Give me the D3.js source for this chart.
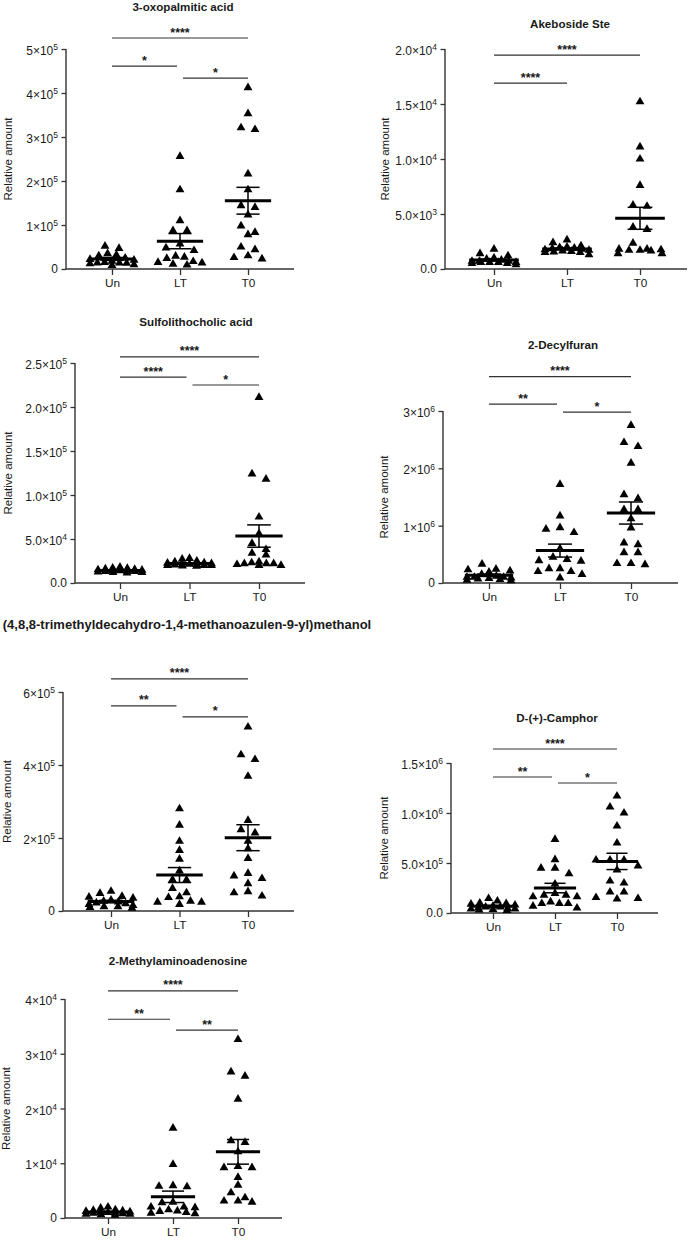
<!DOCTYPE html>
<html><head><meta charset="utf-8">
<script src="https://cdn.jsdelivr.net/npm/d3@7"></script>
<style>
body{margin:0;background:#fff}
svg{display:block}
text{font-family:"Liberation Sans",Arial,Helvetica,sans-serif;fill:#1a1a1a}
</style>
</head><body>
<svg id="chart" width="691" height="1240"></svg>
<script>
// ---------------- DATA ----------------
const groups = ["Un", "LT", "T0"];
const titles = [
  "3-oxopalmitic acid",
  "Akeboside Ste",
  "Sulfolithocholic acid",
  "2-Decylfuran",
  "(4,8,8-trimethyldecahydro-1,4-methanoazulen-9-yl)methanol",
  "D-(+)-Camphor",
  "2-Methylaminoadenosine"
];

// 3-oxopalmitic acid
const oxoUn = [47000, 52000, 30000, 32000, 25000, 22000, 18000, 15000, 14000, 13000, 12000, 10000, 14000, 20000, 8000, 35000];
const oxoLT = [256000, 180000, 110000, 87000, 87000, 57000, 48000, 42000, 27000, 24000, 29000, 11000, 14000, 17000, 9000, 15000];
const oxoT0 = [412000, 353000, 317000, 321000, 216000, 180000, 140000, 144000, 123000, 83000, 98000, 78000, 50000, 44000, 23000, 30000, 26000];
// Akeboside Ste
const akeUn = [1400, 1800, 1200, 1000, 900, 800, 700, 700, 600, 600, 500, 500, 600, 700, 400, 600];
const akeLT = [2650, 2400, 2100, 2000, 1950, 1900, 1850, 1800, 1750, 1700, 1650, 1600, 1550, 1500, 1300, 1500];
const akeT0 = [15200, 11100, 10000, 7600, 5800, 5700, 3800, 3600, 2350, 1700, 1700, 1750, 1800, 1400, 1800, 1400, 1650];
// Sulfolithocholic acid
const sulUn = [18000, 17000, 16500, 16000, 15500, 15000, 14500, 14000, 14000, 13500, 13000, 13000, 12500, 12000, 11500, 12000];
const sulLT = [28000, 27000, 25000, 24000, 23000, 22500, 22000, 21500, 21000, 21000, 20500, 20000, 20000, 19500, 19000, 20000];
const sulT0 = [211000, 124000, 118000, 75000, 56000, 45000, 32000, 38000, 34000, 22000, 24000, 21000, 23000, 20000, 22000, 20000, 22000];
// 2-Decylfuran
const decUn = [330000, 240000, 230000, 210000, 190000, 150000, 120000, 100000, 100000, 90000, 80000, 70000, 60000, 50000, 40000, 100000];
const decLT = [1720000, 1170000, 880000, 940000, 965000, 600000, 390000, 380000, 410000, 450000, 250000, 200000, 200000, 250000, 150000, 90000];
const decT0 = [2750000, 2450000, 2380000, 2090000, 1540000, 1470000, 1280000, 1280000, 1120000, 960000, 670000, 700000, 530000, 530000, 320000, 340000, 340000];
// (4,8,8-trimethyldecahydro-1,4-methanoazulen-9-yl)methanol
const triUn = [54000, 48000, 40000, 38000, 35000, 30000, 27000, 25000, 22000, 20000, 18000, 15000, 12000, 10000, 8000, 12000];
const triLT = [280000, 235000, 191000, 166000, 142000, 110000, 85000, 86000, 62000, 50000, 39000, 37000, 24000, 24000, 18000, 27000];
const triT0 = [504000, 415000, 428000, 369000, 248000, 223000, 214000, 191000, 171000, 144000, 89000, 103000, 96000, 75000, 41000, 53000, 50000];
// D-(+)-Camphor
const camUn = [145000, 120000, 95000, 88000, 100000, 80000, 70000, 60000, 60000, 50000, 45000, 40000, 35000, 30000, 25000, 40000];
const camLT = [736000, 534000, 449000, 449000, 392000, 290000, 179000, 196000, 162000, 162000, 179000, 111000, 95000, 95000, 95000, 68000, 50000];
const camT0 = [1170000, 1060000, 1000000, 870000, 700000, 530000, 530000, 530000, 430000, 470000, 320000, 300000, 210000, 155000, 210000, 145000, 140000];
// 2-Methylaminoadenosine
const mtaUn = [2000, 1800, 1500, 1400, 1300, 1200, 1100, 1000, 900, 900, 800, 700, 700, 600, 500, 1000];
const mtaLT = [16400, 9800, 5900, 5800, 5700, 2900, 2800, 2000, 2000, 1900, 1300, 1200, 800, 900, 1000, 1500];
const mtaT0 = [32600, 26700, 25900, 21700, 13800, 14100, 12100, 9200, 9200, 9400, 7400, 6000, 4600, 2900, 3700, 3100, 3100];

// Tick values and labels
const oxoTicks = [0, 1e5, 2e5, 3e5, 4e5, 5e5];
const oxoTickLabels = ["0", "1×10^5", "2×10^5", "3×10^5", "4×10^5", "5×10^5"];
const akeTicks = [0, 5e3, 1e4, 1.5e4, 2e4];
const akeTickLabels = ["0.0", "5.0×10^3", "1.0×10^4", "1.5×10^4", "2.0×10^4"];
const sulTicks = [0, 5e4, 1e5, 1.5e5, 2e5, 2.5e5];
const sulTickLabels = ["0.0", "5.0×10^4", "1.0×10^5", "1.5×10^5", "2.0×10^5", "2.5×10^5"];
const decTicks = [0, 1e6, 2e6, 3e6];
const decTickLabels = ["0", "1×10^6", "2×10^6", "3×10^6"];
const triTicks = [0, 2e5, 4e5, 6e5];
const triTickLabels = ["0", "2×10^5", "4×10^5", "6×10^5"];
const camTicks = [0, 5e5, 1e6, 1.5e6];
const camTickLabels = ["0.0", "5.0×10^5", "1.0×10^6", "1.5×10^6"];
const mtaTicks = [0, 1e4, 2e4, 3e4, 4e4];
const mtaTickLabels = ["0", "1×10^4", "2×10^4", "3×10^4", "4×10^4"];

// Significance brackets: [fromGroup, toGroup, label, height (data units)]
const oxoSig = [[0, 2, "****", 5.25e5], [0, 1, "*", 4.61e5], [1, 2, "*", 4.34e5]];
const akeSig = [[0, 2, "****", 1.945e4], [0, 1, "****", 1.69e4]];
const sulSig = [[0, 2, "****", 2.57e5], [0, 1, "****", 2.34e5], [1, 2, "*", 2.25e5]];
const decSig = [[0, 2, "****", 3.6e6], [0, 1, "**", 3.12e6], [1, 2, "*", 2.98e6]];
const triSig = [[0, 2, "****", 6.36e5], [0, 1, "**", 5.62e5], [1, 2, "*", 5.32e5]];
const camSig = [[0, 2, "****", 1.64e6], [0, 1, "**", 1.36e6], [1, 2, "*", 1.30e6]];
const mtaSig = [[0, 2, "****", 4.15e4], [0, 1, "**", 3.63e4], [1, 2, "**", 3.43e4]];

const yLabel = "Relative amount";

// ---------------- LAYOUT ----------------
const layouts = [
  {ax: 66,  end: 294, c0: 112, c1: 248, top: 49,  base: 269,  tx: 183, ty: 11,  lab: 58, fs: 11.6},
  {ax: 445, end: 687, c0: 494, c1: 640, top: 49,  base: 269,  tx: 570, ty: 28,  lab: 60, fs: 11.6},
  {ax: 75,  end: 305, c0: 120, c1: 259, top: 363, base: 583,  tx: 196, ty: 326, lab: 67, fs: 11.6},
  {ax: 443, end: 678, c0: 489, c1: 631, top: 411, base: 583,  tx: 563, ty: 349, lab: 59, fs: 11.6},
  {ax: 63,  end: 294, c0: 111, c1: 248, top: 692, base: 911,  tx: 187, ty: 629, lab: 56, fs: 13},
  {ax: 451, end: 658, c0: 493, c1: 617, top: 763, base: 913,  tx: 557, ty: 722, lab: 67, fs: 11.6},
  {ax: 65,  end: 282, c0: 108, c1: 238, top: 999, base: 1218, tx: 178, ty: 965, lab: 59, fs: 11.6}
];

const panels = [
  {data: [oxoUn, oxoLT, oxoT0], ticks: oxoTicks, labels: oxoTickLabels, sig: oxoSig},
  {data: [akeUn, akeLT, akeT0], ticks: akeTicks, labels: akeTickLabels, sig: akeSig},
  {data: [sulUn, sulLT, sulT0], ticks: sulTicks, labels: sulTickLabels, sig: sulSig},
  {data: [decUn, decLT, decT0], ticks: decTicks, labels: decTickLabels, sig: decSig},
  {data: [triUn, triLT, triT0], ticks: triTicks, labels: triTickLabels, sig: triSig},
  {data: [camUn, camLT, camT0], ticks: camTicks, labels: camTickLabels, sig: camSig},
  {data: [mtaUn, mtaLT, mtaT0], ticks: mtaTicks, labels: mtaTickLabels, sig: mtaSig}
];

const svg = d3.select("#chart");
const AX = "#333";
const tri = d3.symbol().type(d3.symbolTriangle).size(34);

// Prism-like row layout for scatter points
function arrange(vals, cx, y) {
  const pts = vals.map(v => ({v, py: y(v)})).sort((a, b) => a.py - b.py);
  const rowH = 7, maxRow = 7;
  const out = [];
  let i = 0;
  while (i < pts.length) {
    const start = pts[i].py;
    const row = [];
    while (i < pts.length && pts[i].py - start < rowH && row.length < maxRow) { row.push(pts[i]); i++; }
    const n = row.length;
    const sp = n <= 4 ? 14 : 44 / (n - 1);
    const slots = d3.range(n).map(k => (k - (n - 1) / 2) * sp);
    const slotOrder = slots.slice().sort((a, b) => Math.abs(a) - Math.abs(b) || a - b);
    row.forEach((p, k) => { p.px = cx + slotOrder[k]; out.push(p); });
  }
  return out;
}

panels.forEach((P, pi) => {
  const L = layouts[pi];
  const g = svg.append("g");
  const x = d3.scalePoint().domain(groups).range([L.c0, L.c1]);
  const yMax = P.ticks[P.ticks.length - 1];
  const y = d3.scaleLinear().domain([0, yMax]).range([L.base, L.top]);
  const step = x.step();

  // title
  g.append("text").attr("x", L.tx).attr("y", L.ty).attr("text-anchor", "middle")
    .attr("font-size", L.fs).attr("font-weight", "bold").text(titles[pi]);

  // y axis
  const yAxis = d3.axisLeft(y).tickValues(P.ticks).tickSize(4.5).tickFormat("");
  const ya = g.append("g").attr("transform", `translate(${L.ax},0)`).call(yAxis);
  ya.select(".domain").remove();
  ya.selectAll("line").attr("stroke", AX).attr("stroke-width", 1.3);
  g.append("line").attr("x1", L.ax).attr("x2", L.ax).attr("y1", y(yMax)).attr("y2", y(0))
    .attr("stroke", AX).attr("stroke-width", 1.4);
  P.ticks.forEach((t, k) => {
    const lab = P.labels[k];
    const parts = lab.split("^");
    const tx = g.append("text").attr("x", L.ax - 8).attr("y", y(t)).attr("text-anchor", "end")
      .attr("font-size", 12).attr("dy", parts.length > 1 ? "0.5em" : "0.35em");
    tx.append("tspan").text(parts[0]);
    if (parts.length > 1) {
      tx.append("tspan").attr("dy", "-0.55em").attr("font-size", 8.5).text(parts[1]);
    }
  });

  // y label
  g.append("text").attr("transform", `translate(${L.ax - L.lab},${(y(0) + y(yMax)) / 2}) rotate(-90)`)
    .attr("text-anchor", "middle").attr("dy", "0.35em").attr("font-size", 11.5).text(yLabel);

  // x axis
  const xAxis = d3.axisBottom(x).tickSize(6).tickSizeOuter(0).tickPadding(4);
  const xa = g.append("g").attr("transform", `translate(0,${L.base})`).call(xAxis);
  xa.select(".domain").remove();
  xa.selectAll("line").attr("stroke", AX).attr("stroke-width", 1.3);
  xa.selectAll("text").attr("font-size", 11.8).attr("fill", "#1a1a1a")
    .attr("font-family", "'Liberation Sans', Arial, sans-serif");
  g.append("line").attr("x1", L.ax).attr("x2", L.end).attr("y1", L.base).attr("y2", L.base)
    .attr("stroke", AX).attr("stroke-width", 1.4);

  // points
  P.data.forEach((vals, gi) => {
    const cx = x(groups[gi]);
    const pts = arrange(vals, cx, y);
    g.append("g").selectAll("path").data(pts).join("path")
      .attr("d", tri).attr("transform", d => `translate(${d.px},${d.py})`).attr("fill", "#000");

    const m = d3.mean(vals);
    const sem = d3.deviation(vals) / Math.sqrt(vals.length);
    const hw = step * 0.34, cw = step * 0.17;
    g.append("line").attr("x1", cx - hw).attr("x2", cx + hw).attr("y1", y(m)).attr("y2", y(m))
      .attr("stroke", "#000").attr("stroke-width", 3);
    g.append("line").attr("x1", cx).attr("x2", cx).attr("y1", y(m - sem)).attr("y2", y(m + sem))
      .attr("stroke", "#000").attr("stroke-width", 1.5);
    [m - sem, m + sem].forEach(v => {
      g.append("line").attr("x1", cx - cw).attr("x2", cx + cw).attr("y1", y(v)).attr("y2", y(v))
        .attr("stroke", "#000").attr("stroke-width", 1.5);
    });
  });

  // significance brackets
  const hasStartAt1 = P.sig.some(s => s[0] === 1);
  P.sig.forEach(s => {
    let x1 = x(groups[s[0]]), x2 = x(groups[s[1]]);
    if (s[0] === 1) x1 += 3;
    if (s[1] === 1 && hasStartAt1) x2 -= 3;
    const yy = y(s[3]);
    g.append("line").attr("x1", x1).attr("x2", x2).attr("y1", yy).attr("y2", yy)
      .attr("stroke", AX).attr("stroke-width", 1.2);
    g.append("text").attr("x", (x1 + x2) / 2).attr("y", yy - 1.5).attr("text-anchor", "middle")
      .attr("font-size", 12.5).attr("font-weight", "bold").text(s[2]);
  });
});
</script>
</body></html>
